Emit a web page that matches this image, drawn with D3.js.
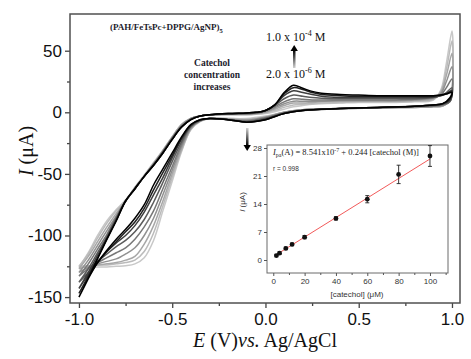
<!DOCTYPE html>
<html>
<head>
<meta charset="utf-8">
<script src="https://cdn.jsdelivr.net/npm/d3@7"></script>
<style>
  body { margin: 0; background: #fff; }
  svg { display: block; }
</style>
</head>
<body>
<div id="container"></div>
<script>
/* DATA */
// catechol concentrations (uM), one CV per concentration
const concentrations = [2, 4, 8, 12, 20, 40, 60, 80, 100];

// potential grid for the positive-going sweep (V)
const E_up = [-1.0, -0.95, -0.9, -0.85, -0.8, -0.75, -0.7, -0.65, -0.6, -0.55, -0.5, -0.45, -0.4, -0.35, -0.3, -0.2, -0.1, -0.05,
  0.0, 0.05, 0.1, 0.15, 0.2, 0.25, 0.3, 0.4, 0.5, 0.6, 0.7, 0.8, 0.9, 0.94, 0.97, 1.0];
// potential grid for the negative-going sweep (V)
const E_down = [1.0, 0.99, 0.95, 0.9, 0.8, 0.6, 0.4, 0.2, 0.1, 0.0, -0.1, -0.2, -0.3, -0.35, -0.4, -0.45, -0.5, -0.55,
  -0.6, -0.65, -0.7, -0.75, -0.8, -0.85, -0.9, -0.95, -1.0];

// current (uA) on the positive-going sweep, one row per concentration
const I_up = [
  [-126, -114, -100, -88, -79, -71, -61, -51, -41, -31, -20, -10, -5, -3, -2, -2, -2, -1.5, -1, 0.5, 2.5, 4.5, 5.5, 6.5, 7, 7.5, 8, 8, 8, 8.5, 10, 18, 40, 66],
  [-125, -115, -102, -90, -80, -72, -61, -51, -41, -31, -20, -10, -5, -3, -2, -2, -2, -1.5, -0.5, 1.5, 4, 6, 6.5, 7, 7.5, 8, 8.5, 8.5, 8.5, 9, 10.5, 17, 35, 58],
  [-127, -117, -105, -93, -82, -72, -61, -52, -42, -31, -20, -10, -5, -3, -2, -1.5, -1.5, -1, 0, 2.5, 5.5, 7.5, 7.5, 8, 8.5, 9, 9, 9, 9, 9.5, 11, 16, 30, 48],
  [-130, -120, -108, -96, -84, -72, -62, -52, -42, -32, -21, -11, -5, -3, -2, -1.5, -1.5, -1, 0.5, 3.5, 7, 9, 9, 9, 9, 9.5, 9.5, 9.5, 9.5, 10, 11.5, 15, 25, 37],
  [-133, -123, -111, -99, -85, -72, -62, -52, -42, -32, -21, -11, -5.5, -3, -2, -1.5, -1, -0.5, 1, 4.5, 8.5, 11, 10.5, 10, 10, 10, 10, 10, 10, 10.5, 12, 14, 20, 27],
  [-138, -127, -114, -101, -86, -72, -62, -52, -43, -32, -21, -12, -5.5, -3, -2, -1.5, -1, -0.5, 1.5, 5.5, 11, 14, 13, 12, 11.5, 11, 11, 11, 11, 11, 12, 13.5, 16, 20],
  [-143, -130, -116, -102, -87, -72, -62, -52, -43, -33, -22, -12, -6, -3, -2, -1, -0.5, 0, 1.5, 6, 13.5, 17.5, 16, 14.5, 13, 12, 12, 12, 12, 12, 12.5, 13.5, 15, 18],
  [-147, -133, -118, -103, -88, -72, -62, -52, -43, -33, -22, -12, -6, -3, -2, -1, -0.5, 0, 1.5, 6, 15, 20, 18.5, 16, 14.5, 13.5, 13, 13, 13, 13, 13, 14, 15, 17],
  [-150, -135, -119, -103, -88, -72, -62, -52, -43, -33, -22, -12, -6, -3, -2, -1, -0.5, 0, 1.5, 6, 16, 22, 19.5, 17, 15.5, 14.5, 14, 13.5, 13.5, 13.5, 13.5, 14, 15, 16]
];

// current (uA) on the negative-going sweep
const I_down = [
  [66, 12, 5, 4.5, 4, 3.5, 3, 2, 0, -3, -5, -5, -5, -7.5, -14, -32, -56, -80, -104, -118, -123, -124.5, -125, -125.5, -125.5, -125.5, -126],
  [58, 11, 5, 4.5, 4, 3.5, 3, 2, 0, -3.5, -5.5, -5, -5, -7, -14, -31, -53, -76, -98, -113, -120, -122, -123, -124, -124, -124.5, -125],
  [48, 10, 5, 4.5, 4, 3.5, 3, 2, 0, -4, -6, -5.5, -5, -7, -13, -30, -50, -72, -92, -107, -117, -120, -122, -123, -124, -125, -127],
  [37, 9, 5.5, 5, 4.5, 3.5, 3, 2, 0, -4, -6.5, -5.5, -5, -7, -13, -28, -47, -67, -86, -100, -110, -115, -119, -121, -123, -126, -130],
  [27, 9, 6, 5, 4.5, 3.5, 3, 2, -0.5, -4.5, -7, -6, -5, -7, -12, -26, -44, -62, -80, -93, -103, -110, -114, -118, -122, -127, -133],
  [20, 9, 6.5, 5.5, 5, 4, 3, 1.5, -0.5, -5, -7.5, -6, -5, -6.5, -11, -24, -40, -57, -73, -87, -97, -104, -109, -115, -121, -130, -138],
  [18, 10, 7, 6, 5, 4, 3, 1.5, -1, -5.5, -8, -6, -5, -6, -11, -22, -37, -53, -67, -81, -92, -100, -106, -113, -122, -132, -143],
  [17, 11, 7, 6, 5, 4, 3, 1.5, -1, -6, -8, -6, -5, -6, -10, -21, -35, -49, -63, -78, -89, -97, -105, -113, -122, -134, -147],
  [16, 12, 7, 6, 5, 4, 3, 1.5, -1, -6, -8, -6, -5, -6, -10, -20, -33, -46, -59, -75, -86, -95, -103, -112, -122, -135, -150]
];

// inset: anodic peak current vs concentration
const peakCurrent = [1.1, 1.7, 2.9, 3.9, 5.7, 10.4, 15.2, 21.4, 26.0];
const peakError = [0.3, 0.3, 0.3, 0.3, 0.4, 0.4, 0.9, 2.3, 2.6];
const fitIntercept = 0.8541, fitSlope = 0.244;

const xTicks = [-1.0, -0.5, 0.0, 0.5, 1.0];
const xMinor = [-0.75, -0.25, 0.25, 0.75];
const yTicks = [50, 0, -50, -100, -150];
const yMinor = [25, -25, -75, -125];
const insetXTicks = [0, 20, 40, 60, 80, 100];
const insetXMinor = [10, 30, 50, 70, 90, 110];
const insetYTicks = [0, 7, 14, 21, 28];

/* CONSTANTS */
const width = 471, height = 359;
const frame = {left: 70, right: 460, top: 14, bottom: 303};
const inset = {left: 267, right: 448, top: 145, bottom: 273};

const svg = d3.select("#container").append("svg")
  .attr("width", width).attr("height", height);

/* SCALES */
const x = d3.scaleLinear().domain([-1.048, 1.043]).range([frame.left, frame.right]);
const y = d3.scaleLinear().domain([-154.8, 79.8]).range([frame.bottom, frame.top]);
// light grey for the lowest concentration -> black for the highest
const shade = d3.scalePow().exponent(1.3).domain([0, concentrations.length - 1]).range([0, 1]);
const color = k => d3.interpolateRgb("#c8c8c8", "#000000")(shade(k));

/* CV CURVES */
svg.append("clipPath").attr("id", "clip")
  .append("rect")
  .attr("x", frame.left).attr("y", frame.top)
  .attr("width", frame.right - frame.left).attr("height", frame.bottom - frame.top);

const line = d3.line()
  .x(d => x(d[0])).y(d => y(d[1]))
  .curve(d3.curveCatmullRom.alpha(0.5));

const cvData = concentrations.map((c, k) =>
  E_up.map((e, i) => [e, I_up[k][i]])
    .concat(E_down.slice(1).map((e, i) => [e, I_down[k][i + 1]])));

svg.append("g").attr("clip-path", "url(#clip)")
  .selectAll("path")
  .data(cvData)
  .join("path")
  .attr("d", line)
  .attr("fill", "none")
  .attr("stroke", (d, k) => color(k))
  .attr("stroke-width", 1.5)
  .attr("stroke-linejoin", "round");

/* AXES */
const axisFont = "'Liberation Sans', Arial, sans-serif";

svg.append("g")
  .attr("transform", `translate(0,${frame.bottom})`)
  .call(d3.axisBottom(x).tickValues(xTicks).tickSize(5).tickPadding(5).tickFormat(d => d.toFixed(1)));
svg.append("g")
  .attr("transform", `translate(0,${frame.bottom})`)
  .call(d3.axisBottom(x).tickValues(xMinor).tickSize(3).tickFormat(""));

svg.append("g")
  .attr("transform", `translate(${frame.left},0)`)
  .call(d3.axisLeft(y).tickValues(yTicks).tickSize(5).tickPadding(3).tickFormat(d => String(d)));
svg.append("g")
  .attr("transform", `translate(${frame.left},0)`)
  .call(d3.axisLeft(y).tickValues(yMinor).tickSize(3).tickFormat(""));

svg.selectAll(".domain").remove();
svg.selectAll(".tick line").attr("stroke", "#444").attr("stroke-width", 1.3);
svg.selectAll(".tick text")
  .style("font-family", axisFont).style("font-size", "17px").attr("fill", "#111");

svg.append("rect")
  .attr("x", frame.left).attr("y", frame.top)
  .attr("width", frame.right - frame.left).attr("height", frame.bottom - frame.top)
  .attr("fill", "none").attr("stroke", "#505050").attr("stroke-width", 1.5);

// axis titles
const serif = "'Liberation Serif', 'Times New Roman', serif";
const xTitle = svg.append("text")
  .attr("x", 265).attr("y", 347)
  .attr("text-anchor", "middle")
  .style("font-family", serif).style("font-size", "20px").attr("fill", "#111");
xTitle.append("tspan").style("font-style", "italic").text("E");
xTitle.append("tspan").text(" (V)");
xTitle.append("tspan").style("font-style", "italic").text("vs.");
xTitle.append("tspan").text(" Ag/AgCl");

const yTitle = svg.append("text")
  .attr("transform", "translate(33,151) rotate(-90)")
  .attr("text-anchor", "middle")
  .style("font-family", serif).style("font-size", "20px").attr("fill", "#111");
yTitle.append("tspan").style("font-style", "italic").text("I");
yTitle.append("tspan").text(" (μA)");

/* ANNOTATIONS */
const film = svg.append("text")
  .attr("x", 110).attr("y", 30)
  .style("font-family", serif).style("font-size", "9px").style("font-weight", "bold").attr("fill", "#1c1c2c");
film.append("tspan").text("(PAH/FeTsPc+DPPG/AgNP)");
film.append("tspan").attr("dy", 2.5).style("font-size", "6.5px").text("5");

svg.append("text")
  .attr("x", 212).attr("y", 66)
  .attr("text-anchor", "middle")
  .style("font-family", serif).style("font-size", "9.5px").style("font-weight", "bold").attr("fill", "#1c1c2c")
  .selectAll("tspan")
  .data(["Catechol", "concentration", "increases"])
  .join("tspan")
  .attr("x", 212)
  .attr("dy", (d, i) => i === 0 ? 0 : 12)
  .text(d => d);

function concLabel(yPos, mant, exp) {
  const t = svg.append("text")
    .attr("x", 266).attr("y", yPos)
    .style("font-family", serif).style("font-size", "12px").attr("fill", "#111");
  t.append("tspan").text(mant + " x 10");
  t.append("tspan").attr("dy", -5).style("font-size", "8px").text(exp);
  t.append("tspan").attr("dy", 5).text(" M");
}
concLabel(41, "1.0", "-4");
concLabel(78, "2.0", "-6");

// gradient arrows
const defs = svg.append("defs");
const gUp = defs.append("linearGradient").attr("id", "gradUp")
  .attr("x1", 0).attr("y1", 1).attr("x2", 0).attr("y2", 0);
gUp.append("stop").attr("offset", "0%").attr("stop-color", "#d0d0d0");
gUp.append("stop").attr("offset", "100%").attr("stop-color", "#000");
const gDown = defs.append("linearGradient").attr("id", "gradDown")
  .attr("x1", 0).attr("y1", 0).attr("x2", 0).attr("y2", 1);
gDown.append("stop").attr("offset", "0%").attr("stop-color", "#d0d0d0");
gDown.append("stop").attr("offset", "100%").attr("stop-color", "#000");

svg.append("rect").attr("x", 293).attr("y", 50).attr("width", 2.5).attr("height", 18).attr("fill", "url(#gradUp)");
svg.append("path").attr("d", "M290.5,51 L294.2,45 L297.9,51 Z").attr("fill", "#000");

svg.append("rect").attr("x", 246).attr("y", 128).attr("width", 2.5).attr("height", 18).attr("fill", "url(#gradDown)");
svg.append("path").attr("d", "M243.5,145 L247.2,151 L250.9,145 Z").attr("fill", "#000");

/* INSET */
const xi = d3.scaleLinear().domain([-4, 111.5]).range([inset.left, inset.right]);
const yi = d3.scaleLinear().domain([-3.25, 28.75]).range([inset.bottom, inset.top]);

svg.append("rect")
  .attr("x", inset.left).attr("y", inset.top)
  .attr("width", inset.right - inset.left).attr("height", inset.bottom - inset.top)
  .attr("fill", "#fff").attr("stroke", "#6a6a6a").attr("stroke-width", 1);

const insetG = svg.append("g").attr("class", "inset");
insetG.append("g")
  .attr("transform", `translate(0,${inset.bottom})`)
  .call(d3.axisBottom(xi).tickValues(insetXTicks).tickSize(3).tickPadding(2));
insetG.append("g")
  .attr("transform", `translate(0,${inset.bottom})`)
  .call(d3.axisBottom(xi).tickValues(insetXMinor).tickSize(2).tickFormat(""));
insetG.append("g")
  .attr("transform", `translate(${inset.left},0)`)
  .call(d3.axisLeft(yi).tickValues(insetYTicks).tickSize(3).tickPadding(2));
insetG.selectAll(".domain").remove();
insetG.selectAll(".tick line").attr("stroke", "#555").attr("stroke-width", 1);
insetG.selectAll(".tick text")
  .style("font-family", axisFont).style("font-size", "8px").attr("fill", "#333");

// fit line
insetG.append("line")
  .attr("x1", xi(concentrations[0])).attr("y1", yi(fitIntercept + fitSlope * concentrations[0]))
  .attr("x2", xi(concentrations[concentrations.length - 1]))
  .attr("y2", yi(fitIntercept + fitSlope * concentrations[concentrations.length - 1]))
  .attr("stroke", "#f25a5a").attr("stroke-width", 1);

// error bars
const pts = concentrations.map((c, i) => ({c, v: peakCurrent[i], e: peakError[i]}));
const err = insetG.selectAll(".err").data(pts).join("g").attr("class", "err")
  .attr("stroke", "#222").attr("stroke-width", 0.9);
err.append("line")
  .attr("x1", d => xi(d.c)).attr("x2", d => xi(d.c))
  .attr("y1", d => yi(d.v - d.e)).attr("y2", d => yi(d.v + d.e));
err.append("line")
  .attr("x1", d => xi(d.c) - 2).attr("x2", d => xi(d.c) + 2)
  .attr("y1", d => yi(d.v - d.e)).attr("y2", d => yi(d.v - d.e));
err.append("line")
  .attr("x1", d => xi(d.c) - 2).attr("x2", d => xi(d.c) + 2)
  .attr("y1", d => yi(d.v + d.e)).attr("y2", d => yi(d.v + d.e));

insetG.selectAll("circle").data(pts).join("circle")
  .attr("cx", d => xi(d.c)).attr("cy", d => yi(d.v))
  .attr("r", 2.4).attr("fill", "#111");

// inset titles
const eq = insetG.append("text")
  .attr("x", 273).attr("y", 155)
  .style("font-family", serif).style("font-size", "8.5px").attr("fill", "#222");
eq.append("tspan").style("font-style", "italic").text("I");
eq.append("tspan").attr("dy", 2).style("font-size", "6px").text("pa");
eq.append("tspan").attr("dy", -2).text("(A) = 8.541x10");
eq.append("tspan").attr("dy", -3.5).style("font-size", "6px").text("-7");
eq.append("tspan").attr("dy", 3.5).text(" + 0.244 [catechol (M)]");

insetG.append("text")
  .attr("x", 273).attr("y", 171)
  .style("font-family", axisFont).style("font-size", "6.5px").attr("fill", "#333")
  .text("r = 0.998");

insetG.append("text")
  .attr("x", 357).attr("y", 297)
  .attr("text-anchor", "middle")
  .style("font-family", axisFont).style("font-size", "8px").attr("fill", "#333")
  .text("[catechol] (μM)");

const iyT = insetG.append("text")
  .attr("transform", "translate(245,202) rotate(-90)")
  .attr("text-anchor", "middle")
  .style("font-family", axisFont).style("font-size", "8px").attr("fill", "#333");
iyT.append("tspan").style("font-style", "italic").text("I");
iyT.append("tspan").text(" (μA)");
</script>
</body>
</html>
